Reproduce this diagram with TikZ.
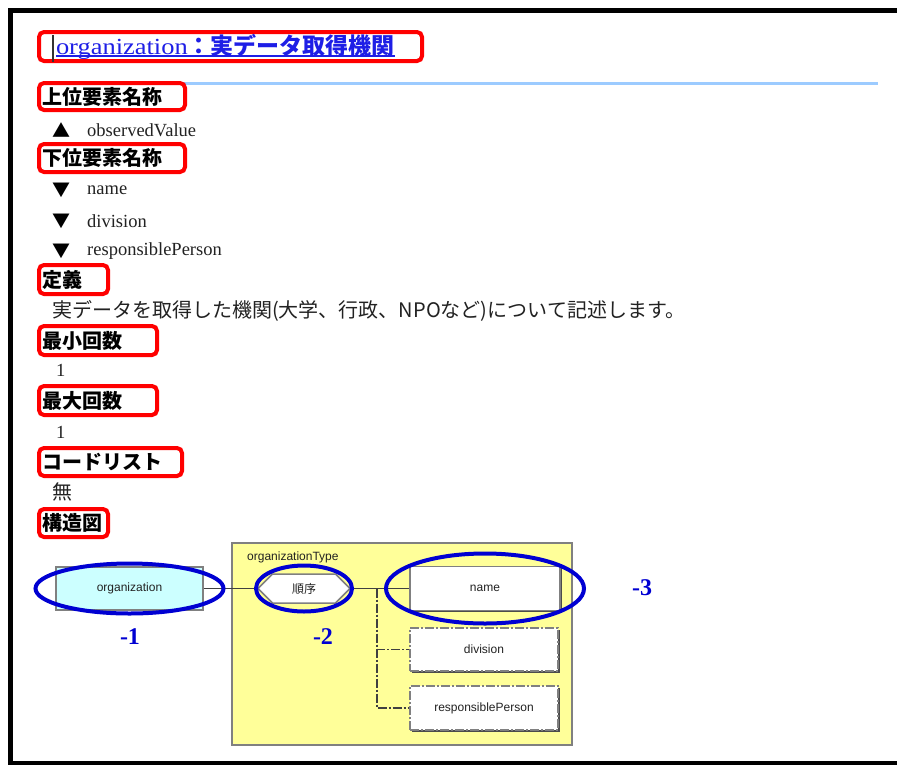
\documentclass[tikz,border=0pt]{standalone}
\usepackage{fontspec}
\setmainfont{Liberation Serif}
\newfontfamily\cjk{Noto Sans CJK JP}
\newfontfamily\dgm{Liberation Sans}
\usetikzlibrary{shapes.symbols,shadows}
\newcommand\ttlline[1]{\setbox0\hbox{#1}\rlap{\rule[-2.5pt]{\wd0}{1.3pt}}\box0}
\definecolor{ttlblue}{HTML}{1E1EE6}
\definecolor{ruleblue}{HTML}{9CCBFF}
\definecolor{loopblue}{HTML}{0000D2}
\definecolor{orgcyan}{HTML}{CCFFFF}
\definecolor{typeyellow}{HTML}{FFFF99}
\definecolor{edgegray}{HTML}{808080}
\definecolor{ink}{HTML}{222222}
\tikzset{
   head/.style={draw=red, line width=4pt, rounded corners=5pt, anchor=west, inner xsep=3pt, inner ysep=1pt,
      text width=#1, align=left, text=black, font={\cjk\bfseries\fontsize{20}{22}\selectfont}},
   body/.style={anchor=west, inner sep=0pt, text=ink, font={\fontsize{18.5}{20}\selectfont}},
   jbody/.style={anchor=west, inner sep=0pt, text=ink, font={\cjk\fontsize{20}{22}\selectfont}},
   tri/.style={anchor=west, inner sep=0pt, text=black, font={\cjk\fontsize{18}{20}\selectfont}},
   elem/.style={draw=edgegray, line width=1.5pt, fill=white, text=ink, font={\dgm\fontsize{12}{14}\selectfont}},
   optelem/.style={elem, dash pattern=on 9pt off 2pt on 2pt off 2pt,
      drop shadow={shadow xshift=1.5pt, shadow yshift=-1.5pt, fill=black!70, opacity=1}},
   conn/.style={draw=black!75, line width=1.5pt},
   optline/.style={dash pattern=on 9pt off 2pt on 2pt off 2pt},
   blueloop/.style={draw=loopblue, line width=4pt},
   numlab/.style={inner sep=0pt, text=loopblue, font={\bfseries\fontsize{24}{24}\selectfont}}
}
\begin{document}
\begin{tikzpicture}[x=1pt,y=-1pt]
   \useasboundingbox (0,0) rectangle (897,764);
   \fill[white] (0,0) rectangle (897,764);
   \draw[line width=4.5pt] (900,10.5) -- (10.5,10.5) -- (10.5,763) -- (900,763);
   \draw[ruleblue, line width=3pt] (45,83) -- (878,83);

   \node[head=349pt, inner xsep=17pt, minimum height=29, text=ttlblue,
      font={\fontsize{23}{24}\selectfont}] (title) at (37,46.5)
      {\ttlline{\scalebox{1.15}[1]{organization}{\cjk\bfseries ：実データ取得機関}}};
   \draw[black!80, line width=1.5pt] (53,35) -- (53,62);

   \node[head=140pt, minimum height=27] (upper) at (37,96.5) {上位要素名称};
   \node[tri] (up1) at (52,130) {▲};
   \node[body] (upname) at (87,130) {observedValue};

   \node[head=140pt, minimum height=28] (lower) at (37,158) {下位要素名称};
   \node[tri] (dn1) at (52,190) {▼};
   \node[body] (dnname) at (87,190) {name};
   \node[tri] (dn2) at (52,221) {▼};
   \node[body] (dndiv) at (87,221) {division};
   \node[tri] (dn3) at (52,251) {▼};
   \node[body] (dnresp) at (87,251) {responsiblePerson};

   \node[head=63pt, minimum height=29] (defn) at (37,279.5) {定義};
   \node[jbody] (defntext) at (52,311) {実データを取得した機関(大学、行政、NPOなど)について記述します。};

   \node[head=112pt, minimum height=29] (minocc) at (37,340.5) {最小回数};
   \node[body] (minval) at (56,370) {1};
   \node[head=112pt, minimum height=29] (maxocc) at (37,400.5) {最大回数};
   \node[body] (maxval) at (56,432) {1};
   \node[head=137pt, minimum height=28] (codes) at (37,462) {コードリスト};
   \node[jbody] (codeval) at (52,492) {無};
   \node[head=63pt, minimum height=28] (struct) at (37,523) {構造図};

   \node[draw=edgegray, line width=1.5pt, fill=typeyellow, minimum width=340, minimum height=202] (otype) at (402,644) {};
   \node[anchor=west, inner sep=0pt, text=ink, font={\dgm\fontsize{12}{14}\selectfont}] (otypelab) at (247,557) {organizationType};

   \node[elem, fill=orgcyan, line width=2pt, minimum width=147, minimum height=43] (org) at (129.5,588.5) {organization};
   \node[elem, signal, signal to=west and east, minimum width=92, minimum height=29,
      font={\cjk\fontsize{12}{14}\selectfont}] (seq) at (304,588.5) {順序};
   \node[elem, minimum width=150, minimum height=44,
      drop shadow={shadow xshift=1.5pt, shadow yshift=-1.5pt, fill=black!70, opacity=1}] (name) at (485,588.5) {name};
   \node[optelem, minimum width=148, minimum height=43] (division) at (484,649.5) {division};
   \node[optelem, minimum width=148, minimum height=44] (resp) at (484,708) {responsiblePerson};
   \coordinate (fork) at (377,588.5);

   \draw[conn] (org.east) -- (seq.west);
   \draw[conn] (seq.east) -- (name.west);
   \draw[conn, optline] (fork) |- (division.west);
   \draw[conn, optline] (fork) |- (resp.west);

   \draw[blueloop] (org.center) ellipse [x radius=94, y radius=25];
   \draw[blueloop] (seq.center) ellipse [x radius=48, y radius=23];
   \draw[blueloop] (name.center) ellipse [x radius=99, y radius=35];
   \node[numlab] (lab1) at (130,637) {-1};
   \node[numlab] (lab2) at (323,637) {-2};
   \node[numlab] (lab3) at (642,588) {-3};
\end{tikzpicture}
\end{document}
